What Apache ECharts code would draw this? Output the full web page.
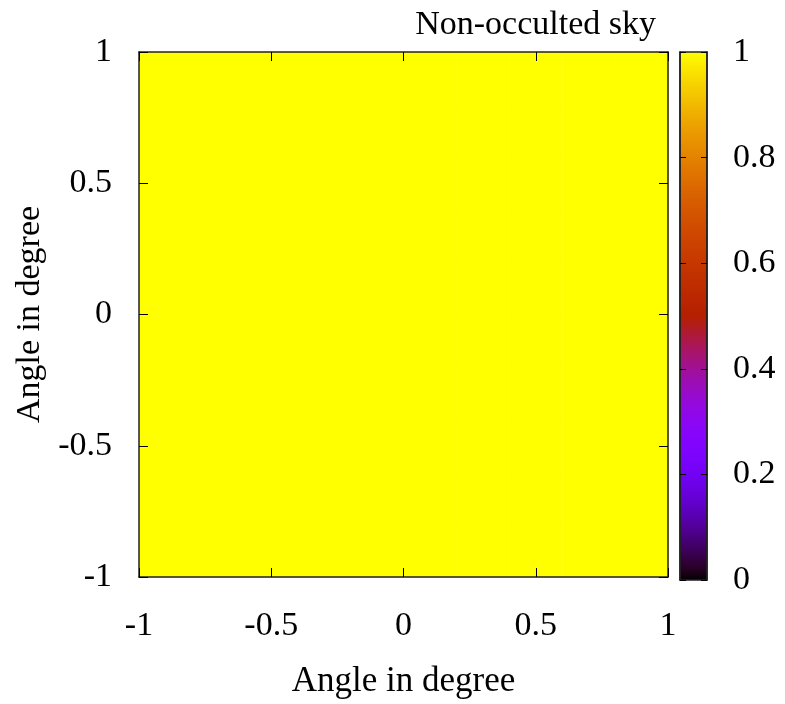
<!DOCTYPE html>
<html>
<head>
<meta charset="utf-8">
<script src="https://cdn.jsdelivr.net/npm/echarts@6/dist/echarts.min.js"></script>
<style>html,body{margin:0;padding:0;background:#fff}#c{width:785px;height:704px}</style>
</head>
<body>
<div id="c"></div>
<script>
// Cell edges (degrees) and sky values (1 = non-occulted everywhere)
const xEdges = [-1, -0.8, -0.6, -0.4, -0.2, 0, 0.2, 0.4, 0.6, 0.8, 1];
const yEdges = [-1, -0.8, -0.6, -0.4, -0.2, 0, 0.2, 0.4, 0.6, 0.8, 1];
const skyValues = [
  [1,1,1,1,1,1,1,1,1,1],
  [1,1,1,1,1,1,1,1,1,1],
  [1,1,1,1,1,1,1,1,1,1],
  [1,1,1,1,1,1,1,1,1,1],
  [1,1,1,1,1,1,1,1,1,1],
  [1,1,1,1,1,1,1,1,1,1],
  [1,1,1,1,1,1,1,1,1,1],
  [1,1,1,1,1,1,1,1,1,1],
  [1,1,1,1,1,1,1,1,1,1],
  [1,1,1,1,1,1,1,1,1,1]
];
const titleText = 'Non-occulted sky';
const axisName = 'Angle in degree';

// gnuplot default palette (rgbformulae 7,5,15)
function pal(t){
  const r = Math.sqrt(t), g = t*t*t, b = Math.max(0, Math.min(1, Math.sin(2*Math.PI*t)));
  const h = v => Math.round(Math.max(0,Math.min(1,v))*255);
  return 'rgb(' + h(r) + ',' + h(g) + ',' + h(b) + ')';
}
const stops = [];
const colors = [];
for (let k = 0; k <= 50; k++) { const t = k/50; stops.push({offset: t, color: pal(t)}); colors.push(pal(t)); }

const cells = [];
for (let i = 0; i < skyValues.length; i++) {
  for (let j = 0; j < skyValues[i].length; j++) {
    cells.push([xEdges[j], yEdges[i], xEdges[j+1], yEdges[i+1], skyValues[i][j]]);
  }
}

const FONT = 'Liberation Serif';
const FS = 34;
const chart = echarts.init(document.getElementById('c'));
const tickStyle = {color:'#000', width:1};
const lineCol = '#222';
chart.setOption({
  backgroundColor:'#fff',
  animation:false,
  title:{text:titleText, right:124, top:3, textStyle:{fontFamily:FONT, fontSize:FS, fontWeight:'normal', color:'#000'}},
  grid:[
    {left:139, top:52, width:529, height:529},
    {left:680, top:52, width:27, height:528}
  ],
  visualMap:{show:false, seriesIndex:0, dimension:4, min:0, max:1, inRange:{color:colors}},
  xAxis:[
    {gridIndex:0, type:'value', min:-1, max:1, interval:0.5, position:'bottom', z:5,
     name:axisName, nameLocation:'middle', nameGap:87,
     nameTextStyle:{fontFamily:FONT, fontSize:35, color:'#000'},
     axisLine:{onZero:false, lineStyle:{color:lineCol, width:1.5}},
     axisTick:{inside:true, length:9, lineStyle:tickStyle},
     axisLabel:{margin:32, fontFamily:FONT, fontSize:FS, color:'#000'},
     splitLine:{show:false}},
    {gridIndex:0, type:'value', min:-1, max:1, interval:0.5, position:'top', z:5,
     axisLine:{onZero:false, lineStyle:{color:lineCol, width:1.5}},
     axisTick:{inside:true, length:9, lineStyle:tickStyle},
     axisLabel:{show:false}, splitLine:{show:false}},
    {gridIndex:1, type:'value', min:0, max:1, show:false}
  ],
  yAxis:[
    {gridIndex:0, type:'value', min:-1, max:1, interval:0.5, position:'left', z:5,
     name:axisName, nameLocation:'middle', nameGap:88, nameRotate:90,
     nameTextStyle:{fontFamily:FONT, fontSize:FS, color:'#000'},
     axisLine:{onZero:false, lineStyle:{color:lineCol, width:1.5}},
     axisTick:{inside:true, length:9, lineStyle:tickStyle},
     axisLabel:{margin:27, fontFamily:FONT, fontSize:FS, color:'#000'},
     splitLine:{show:false}},
    {gridIndex:0, type:'value', min:-1, max:1, interval:0.5, position:'right', z:5,
     axisLine:{onZero:false, lineStyle:{color:lineCol, width:1.5}},
     axisTick:{inside:true, length:9, lineStyle:tickStyle},
     axisLabel:{show:false}, splitLine:{show:false}},
    {gridIndex:1, type:'value', min:0, max:1, interval:0.2, position:'right', z:5,
     axisLine:{show:true, onZero:false, lineStyle:{color:lineCol, width:1.5}},
     axisTick:{inside:true, length:6, lineStyle:tickStyle},
     axisLabel:{margin:26, fontFamily:FONT, fontSize:FS, color:'#000'},
     splitLine:{show:false}},
    {gridIndex:1, type:'value', min:0, max:1, interval:0.2, position:'left', z:5,
     axisLine:{show:true, onZero:false, lineStyle:{color:lineCol, width:1.5}},
     axisTick:{inside:true, length:6, lineStyle:tickStyle},
     axisLabel:{show:false}, splitLine:{show:false}}
  ],
  series:[
    {type:'custom', xAxisIndex:0, yAxisIndex:0, z:1, data:cells,
     renderItem:function(params, api){
       const p0 = api.coord([api.value(0), api.value(1)]);
       const p1 = api.coord([api.value(2), api.value(3)]);
       const c = api.visual('color');
       return {type:'rect', shape:{x:Math.min(p0[0],p1[0]), y:Math.min(p0[1],p1[1]),
         width:Math.abs(p1[0]-p0[0])+0.5, height:Math.abs(p1[1]-p0[1])+0.5},
         style:{fill:c, stroke:null}};
     }},
    {type:'custom', xAxisIndex:2, yAxisIndex:2, z:1, data:[[0,0,1,1]],
     renderItem:function(params, api){
       const p0 = api.coord([api.value(0), api.value(1)]);
       const p1 = api.coord([api.value(2), api.value(3)]);
       return {type:'rect', shape:{x:p0[0], y:p1[1], width:p1[0]-p0[0], height:p0[1]-p1[1]},
         style:{fill:new echarts.graphic.LinearGradient(0,1,0,0,stops), stroke:lineCol, lineWidth:1.5}};
     }}
  ]
});
</script>
</body>
</html>
